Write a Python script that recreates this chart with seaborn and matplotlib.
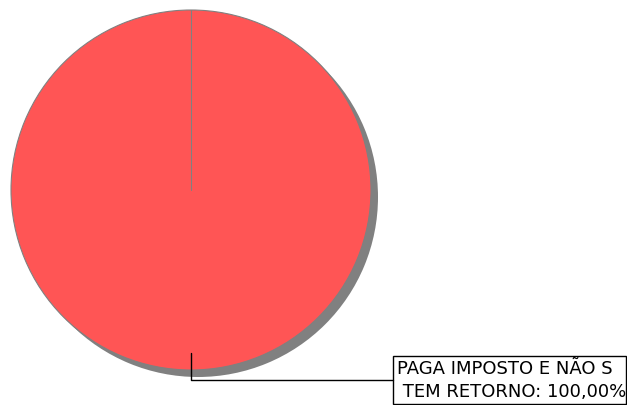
import matplotlib
matplotlib.use("Agg")
import matplotlib.pyplot as plt
import seaborn as sns
from matplotlib.patches import Rectangle

# data
categories = ["PAGA IMPOSTO E NÃO S\nTEM RETORNO"]
values = [100.0]
colors = ["#FF5555"]

sns.set_style("white")
plt.rcParams['font.family'] = ['DejaVu Sans']

fig = plt.figure(figsize=(6.27, 4.05), dpi=100)
ax = fig.add_axes([0, 0, 1, 1])

cx, cy, r = 191, 190, 180

# shadow
ax.pie(values, colors=["#808080"], center=(cx + 7, cy + 7), radius=r,
       startangle=90, counterclock=False, frame=True,
       wedgeprops=dict(linewidth=0))
# main pie
ax.pie(values, colors=colors, center=(cx, cy), radius=r,
       startangle=-90, counterclock=True, frame=True,
       wedgeprops=dict(edgecolor="#808080", linewidth=0.8))
# slice boundary from the centre to the start angle
ax.plot([cx, cx], [cy, cy - r], color="#808080", lw=0.8)

ax.set_xlim(0, 627)
ax.set_ylim(405, 0)
ax.set_aspect("equal")
ax.axis("off")

# label with leader line
total = sum(values)
for cat, v in zip(categories, values):
    pct = f"{v / total * 100:.2f}".replace(".", ",")
    line1, line2 = cat.split("\n")
    ax.plot([cx, cx, 393], [353, 380, 380], color="black", lw=1)
    ax.add_patch(Rectangle((393, 356), 233, 48, facecolor="white",
                           edgecolor="black", lw=1))
    ax.text(397, 369, line1, fontsize=13, va="center", ha="left",
            color="black")
    ax.text(397, 392, " " + line2 + ": " + pct + "%", fontsize=13,
            va="center", ha="left", color="black")

fig.savefig("out.png", dpi=100)
